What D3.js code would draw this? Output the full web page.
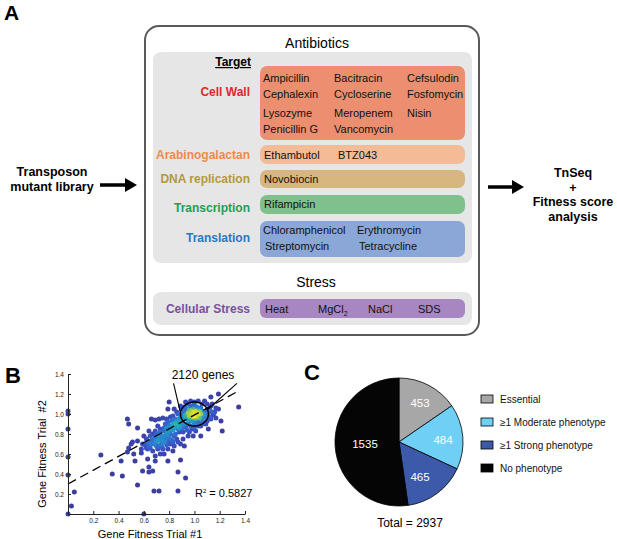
<!DOCTYPE html>
<html>
<head>
<meta charset="utf-8">
<script src="https://cdn.jsdelivr.net/npm/d3@7"></script>
<style>
  html, body { margin: 0; padding: 0; background: #fff; }
  svg { display: block; font-family: "Liberation Sans", Arial, Helvetica, sans-serif; }
  .pre { white-space: pre; }
</style>
</head>
<body>
<svg id="fig" width="617" height="539"></svg>
<script>
// ---------------- DATA ----------------
const targetNames = ["Cell Wall", "Arabinogalactan", "DNA replication", "Transcription", "Translation"];
const cellWallDrugs = ["Ampicillin", "Bacitracin", "Cefsulodin", "Cephalexin", "Cycloserine", "Fosfomycin",
                       "Lysozyme", "Meropenem", "Nisin", "Penicillin G", "Vancomycin"];
const arabinogalactanDrugs = ["Ethambutol", "BTZ043"];
const dnaReplicationDrugs = ["Novobiocin"];
const transcriptionDrugs = ["Rifampicin"];
const translationDrugs = ["Chloramphenicol", "Erythromycin", "Streptomycin", "Tetracycline"];
const stressName = "Cellular Stress";
const stressConditions = ["Heat", "MgCl|2", "NaCl", "SDS"];

// Panel B: gene fitness, trial #1 vs trial #2
const scatterOutliers = [
  [0,1.03],[0,1.0],[0,0.85],[0,0.57],[0,0.39],[0,0],[0.027,0.08],[0.05,0.22],
  [0.26,0.59],[0.35,0.4],[0.43,0.38],[0.42,0.53],[0.47,0.62],[0.48,0.66],[0.48,0.9],[0.47,0.95],
  [0.55,0.86],[0.52,0.6],[0.53,0.53],[0.55,0.29],[0.6,0.78],[0.6,0],[0.58,0.61],[0.59,0.43],
  [0.64,0.47],[0.64,0.42],[0.67,0.43],[0.68,0.23],[0.72,0.23],[0.69,0.58],[0.69,0.53],[0.63,0.55],
  [0.76,0.6],[0.79,0.53],[0.87,0.42],[0.87,0.23],[0.89,0.54],[0.93,0.36],[0.92,0.68],[1.05,0.78],
  [1.17,0.96],[1.21,0.93],[1.22,0.83],[1.35,1.07],[1.19,1.2],[1.13,1.17],
  [0.66,0.95],[0.69,0.94],[0.72,0.95],[0.75,0.96],[0.79,1.05],[0.8,1.12],
  [0.51,0.72],[0.55,0.73],[0.5,0.7],[0.73,0.6]
];
const scatterBand = [
  [0.71,0.88],[0.73,0.85],[0.77,0.9],[0.79,0.82],[0.81,0.85],[0.84,0.88],[0.84,0.78],[0.87,0.85],
  [0.89,0.92],[0.91,0.82],[0.93,0.87],[0.95,0.78],[0.98,0.85],[0.99,0.78],[1.01,0.83],[1.05,0.88],
  [1.09,0.9],[1.11,0.85],[1.16,1.02],[1.19,1.05],[1.13,1.08],[1.08,1.13],[1.03,1.13],[0.97,1.13],
  [0.93,1.12],[0.89,1.08],[0.84,1.05],[0.87,1.0],[0.81,0.97],[0.79,0.92],
  [0.63,0.72],[0.67,0.75],[0.68,0.7],[0.71,0.73],[0.72,0.68],[0.75,0.78],[0.76,0.72],[0.79,0.73],
  [0.81,0.7],[0.84,0.68],[0.87,0.72],[0.89,0.7],[0.91,0.75],[0.59,0.7],[0.58,0.65],[0.63,0.65],
  [0.67,0.63],[0.71,0.65],[0.75,0.65],[0.79,0.65],[0.83,0.63],[0.67,0.8],[0.64,0.83],[0.69,0.83],[0.76,0.83],
  [0.62,0.75],[0.65,0.78],[0.7,0.8],[0.73,0.82],[0.74,0.7],[0.77,0.74],[0.8,0.77],[0.82,0.74],[0.85,0.8],
  [0.88,0.82],[0.9,0.86],[0.92,0.9],[0.86,0.93],[0.83,0.9],[0.8,0.88],[0.76,0.86],[0.72,0.78],[0.69,0.76],
  [0.66,0.73],[0.61,0.69],[0.94,0.84],[0.97,0.88],[1.0,0.87],[1.03,0.88],[1.06,0.9],[1.1,0.93],[1.13,0.95],
  [1.15,0.99],[1.17,1.06],[1.14,1.1],[1.1,1.1],[1.06,1.1],[1.0,1.12],[0.95,1.1],[0.9,1.05],[0.86,1.02],
  [0.83,0.98],[0.78,0.95],[0.82,0.93],[0.96,0.82],[0.86,0.75],[0.83,0.72],[0.78,0.69],[0.74,0.67],
  [0.7,0.68],[0.65,0.66]
];
const scatterCore = [
  [1.0,1.0],[0.99,1.01],[1.01,0.99],[1.02,1.01],[0.98,0.99],[1.0,1.02],[1.0,0.98],[1.03,1.0],[0.97,1.0],
  [1.01,1.03],[0.99,0.97],[1.04,1.02],[0.96,0.98],[1.02,0.97],[0.98,1.03],[1.05,1.0],[0.95,1.01],
  [1.03,1.04],[0.97,0.96],[1.06,1.03],[0.94,0.97],[1.01,0.95],[0.99,1.05],[1.07,0.99],[0.93,0.99],
  [1.04,0.96],[0.96,1.04],[1.08,1.02],[0.92,0.95],[1.05,1.06],[0.95,0.94],[1.02,1.07],[0.98,0.93],
  [1.09,1.0],[0.91,1.0],[1.06,0.95],[0.94,1.05],[1.1,1.04],[0.9,0.96],[1.03,0.92],[0.97,1.08],
  [1.08,0.97],[0.92,1.03],[1.11,1.01],[0.89,0.93],[1.0,1.09],[1.0,0.91],[0.88,0.95],[0.9,0.9],
  [0.87,0.91],[0.86,0.88],[0.85,0.9],[0.84,0.86],[0.88,0.87],[0.83,0.84],[0.82,0.87],[0.8,0.83],
  [0.81,0.8],[0.78,0.8],[0.77,0.77],[0.75,0.76],[0.74,0.74],[0.72,0.75],[0.7,0.72],[0.68,0.71],
  [0.66,0.7],[0.64,0.68],[0.62,0.66],[0.78,0.86],[0.85,0.95],[0.89,0.99],[0.92,1.07],[1.12,0.97],
  [1.12,1.06],[1.14,1.02],[1.07,0.92],[0.95,0.9]
];
const fitIntercept = 0.30;   // regression (dashed) line
const fitSlope = 0.69;
const rSquared = "0.5827";
const clusterLabel = "2120 genes";
const axisTicks = [0.2, 0.4, 0.6, 0.8, 1.0, 1.2, 1.4];

// Panel C: phenotype classes
const pieCategories = ["Essential", "\u22651 Moderate phenotype", "\u22651 Strong phenotype", "No phenotype"];
const pieValues = [453, 484, 465, 1535];
const pieColors = ["#a7a7a7", "#6fcff5", "#3d5aaa", "#050505"];
const pieTotalLabel = "Total = 2937";

// ---------------- DRAW ----------------
const svg = d3.select("#fig");

// Panel letters
svg.append("text").attr("x", 4).attr("y", 20).attr("font-size", 21).attr("font-weight", "bold").text("A");
svg.append("text").attr("x", 5).attr("y", 383).attr("font-size", 22).attr("font-weight", "bold").text("B");
svg.append("text").attr("x", 304).attr("y", 380).attr("font-size", 22).attr("font-weight", "bold").text("C");

// ---- Panel A ----
const A = svg.append("g");
A.append("rect").attr("x", 145).attr("y", 26).attr("width", 334).attr("height", 309)
  .attr("rx", 14).attr("fill", "#fff").attr("stroke", "#595959").attr("stroke-width", 2);
A.append("text").attr("x", 317).attr("y", 48).attr("text-anchor", "middle").attr("font-size", 14).text("Antibiotics");
A.append("rect").attr("x", 153).attr("y", 52).attr("width", 319).attr("height", 211).attr("rx", 8).attr("fill", "#e6e6e6");
A.append("text").attr("x", 251).attr("y", 66).attr("text-anchor", "end").attr("font-size", 12)
  .attr("font-weight", "bold").attr("text-decoration", "underline").text("Target");

const boxColors = ["#ec8e70", "#f4bc96", "#d7b680", "#7fc08c", "#8aa7d8"];
const labelColors = ["#e2262b", "#f08a4c", "#b3993b", "#1f9d55", "#2b78bf"];
const boxTop = [66, 145, 170, 195, 221];
const boxBot = [140, 164, 188, 214, 257];
const labelY = [96, 158.5, 183, 212, 242];
const drugSets = [cellWallDrugs, arabinogalactanDrugs, dnaReplicationDrugs, transcriptionDrugs, translationDrugs];
const colX = [[263, 334, 407], [264, 338], [264], [264], [263, 357]];
const rowY = [[82, 97.5, 117, 133], [159], [183], [208], [234, 250]];

targetNames.forEach((name, i) => {
  A.append("rect").attr("x", 260).attr("y", boxTop[i]).attr("width", 205)
    .attr("height", boxBot[i] - boxTop[i]).attr("rx", 7).attr("fill", boxColors[i]);
  A.append("text").attr("x", 250).attr("y", labelY[i]).attr("text-anchor", "end")
    .attr("font-size", 12).attr("font-weight", "bold").attr("fill", labelColors[i]).text(name);
  const nc = colX[i].length;
  drugSets[i].forEach((d, j) => {
    const c = j % nc, r = Math.floor(j / nc);
    A.append("text").attr("x", colX[i][c] + (i === 4 && r === 1 ? 2 : 0)).attr("y", rowY[i][r]).attr("font-size", 11).attr("fill", "#111").text(d);
  });
});

A.append("text").attr("x", 316).attr("y", 287).attr("text-anchor", "middle").attr("font-size", 14).text("Stress");
A.append("rect").attr("x", 153).attr("y", 292).attr("width", 319).attr("height", 33).attr("rx", 8).attr("fill", "#e6e6e6");
A.append("rect").attr("x", 260).attr("y", 299).attr("width", 205).attr("height", 19).attr("rx", 6).attr("fill", "#a886c1");
A.append("text").attr("x", 250).attr("y", 313).attr("text-anchor", "end").attr("font-size", 12)
  .attr("font-weight", "bold").attr("fill", "#7a4ea2").text(stressName);
const stressX = [265, 318, 368, 418];
stressConditions.forEach((s, j) => {
  const parts = s.split("|");
  const t = A.append("text").attr("x", stressX[j]).attr("y", 313).attr("font-size", 11).attr("fill", "#111");
  t.append("tspan").text(parts[0]);
  if (parts[1]) t.append("tspan").attr("font-size", 7).attr("dy", 3).text(parts[1]);
});

// Side texts and arrows
const boldTxt = (x, y, s, size) => svg.append("text").attr("x", x).attr("y", y).attr("text-anchor", "middle")
  .attr("font-size", size).attr("font-weight", "bold").text(s);
boldTxt(52, 176, "Transposon", 12.5);
boldTxt(52, 191, "mutant library", 12.5);
boldTxt(573, 177, "TnSeq", 12.5);
boldTxt(573, 192, "+", 12.5);
boldTxt(573, 206, "Fitness score", 12.5);
boldTxt(573, 221, "analysis", 12.5);
function arrow(x1, x2, y) {
  svg.append("line").attr("x1", x1).attr("x2", x2 - 8).attr("y1", y).attr("y2", y).attr("stroke", "#000").attr("stroke-width", 3.5);
  svg.append("path").attr("d", `M${x2},${y} L${x2 - 12},${y - 7} L${x2 - 12},${y + 7} Z`).attr("fill", "#000");
}
arrow(100, 137, 185);
arrow(488, 524, 187);

// ---- Panel B ----
const x = d3.scaleLinear().domain([0, 1.4]).range([68, 245]);
const y = d3.scaleLinear().domain([0, 1.4]).range([514, 374]);
const B = svg.append("g");

const allPts = scatterOutliers.concat(scatterBand, scatterCore);
const dens = allPts.map(p => allPts.filter(q => Math.hypot(q[0] - p[0], q[1] - p[1]) < 0.07).length);
const maxD = d3.max(dens);
const parula = d3.scaleLinear().domain([0, 0.4, 0.6, 0.75, 0.88, 1])
  .range(["#3d3b9a", "#3b4fbf", "#2f72d4", "#1fa8c0", "#8fcb55", "#f8e51c"]);
const ptData = allPts.map((p, i) => ({ p, d: dens[i] / maxD })).sort((a, b) => a.d - b.d);

B.selectAll("circle.pt").data(ptData).join("circle").attr("class", "pt")
  .attr("cx", d => x(d.p[0])).attr("cy", d => y(d.p[1])).attr("r", 2.5)
  .attr("fill", d => parula(d.d));

// regression line
B.append("line").attr("x1", x(0)).attr("y1", y(fitIntercept)).attr("x2", x(1.35)).attr("y2", y(fitIntercept + fitSlope * 1.35))
  .attr("stroke", "#000").attr("stroke-width", 1.3).attr("stroke-dasharray", "9,5");

// cluster ellipse and annotation
B.append("ellipse").attr("cx", x(1.0)).attr("cy", y(1.0)).attr("rx", 14).attr("ry", 12)
  .attr("fill", "none").attr("stroke", "#000").attr("stroke-width", 1.4);
B.append("line").attr("x1", x(0.835)).attr("y1", y(1.307)).attr("x2", x(0.888)).attr("y2", y(1.02)).attr("stroke", "#000").attr("stroke-width", 1.1);
B.append("line").attr("x1", x(1.336)).attr("y1", y(1.307)).attr("x2", x(1.10)).attr("y2", y(1.04)).attr("stroke", "#000").attr("stroke-width", 1.1);
B.append("text").attr("x", 203).attr("y", 379).attr("text-anchor", "middle").attr("font-size", 12).text(clusterLabel);
const rt = B.append("text").attr("x", 195).attr("y", 497).attr("font-size", 11);
rt.append("tspan").text("R");
rt.append("tspan").attr("font-size", 6).attr("dy", -4).text("2");
rt.append("tspan").attr("dy", 4).text(" = " + rSquared);

// axes (inward ticks)
const xAxis = B.append("g").attr("transform", `translate(0,${y(0)})`)
  .call(d3.axisBottom(x).tickValues(axisTicks).tickFormat(d3.format(".1f")).tickSizeInner(-3).tickSizeOuter(0));
const yAxis = B.append("g").attr("transform", `translate(${x(0)},0)`)
  .call(d3.axisLeft(y).tickValues(axisTicks).tickFormat(d3.format(".1f")).tickSizeInner(-3).tickSizeOuter(0));
[xAxis, yAxis].forEach(g => {
  g.selectAll("text").attr("font-size", 6.5).attr("font-family", "Liberation Sans, Arial, sans-serif").attr("fill", "#222");
  g.selectAll("line,path").attr("stroke", "#222");
});
xAxis.selectAll("text").attr("dy", "0.95em").attr("y", 3);
yAxis.selectAll("text").attr("x", -4);
B.append("text").attr("x", 150).attr("y", 538).attr("text-anchor", "middle").attr("font-size", 11).text("Gene Fitness Trial #1");
B.append("text").attr("class", "pre").attr("transform", `translate(46,${y(0.6)}) rotate(-90)`)
  .attr("text-anchor", "middle").attr("font-size", 11).text("Gene Fitness Trial  #2");

// ---- Panel C ----
const C = svg.append("g").attr("transform", "translate(399,442)");
const pie = d3.pie().sort(null).value(d => d)(pieValues);
const arc = d3.arc().innerRadius(0).outerRadius(64);
C.selectAll("path").data(pie).join("path").attr("d", arc)
  .attr("fill", (d, i) => pieColors[i]).attr("stroke", "#000").attr("stroke-width", 0.8);
const labelPos = [[21, -39], [44, -2], [21, 35], [-34, 2]];
C.selectAll("text.val").data(pie).join("text").attr("class", "val")
  .attr("x", (d, i) => labelPos[i][0]).attr("y", (d, i) => labelPos[i][1])
  .attr("text-anchor", "middle").attr("dominant-baseline", "central")
  .attr("font-size", 11.5).attr("fill", "#fff").text(d => d.data);
svg.append("text").attr("x", 410).attr("y", 527).attr("text-anchor", "middle").attr("font-size", 12).text(pieTotalLabel);

const L = svg.append("g");
pieCategories.forEach((c, i) => {
  const cy = 399 + i * 23;
  L.append("rect").attr("x", 481).attr("y", cy - 4).attr("width", 12).attr("height", 8)
    .attr("fill", pieColors[i]).attr("stroke", "#000").attr("stroke-width", 0.8);
  L.append("text").attr("x", 500).attr("y", cy).attr("dominant-baseline", "central").attr("font-size", 10).attr("fill", "#111").text(c);
});
</script>
</body>
</html>
